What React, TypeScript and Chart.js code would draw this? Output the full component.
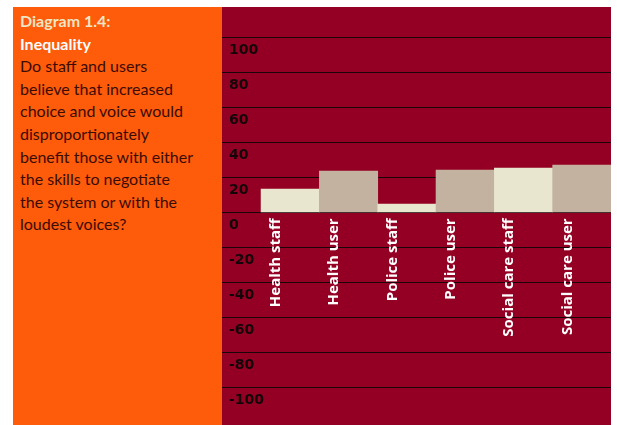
import React, { useEffect, useRef } from "react";
import { Chart, registerables } from "chart.js";

Chart.register(...registerables);

const categories = [
  "Health staff",
  "Health user",
  "Police staff",
  "Police user",
  "Social care staff",
  "Social care user",
];
const values = [13.3, 23.6, 4.7, 24.2, 25.3, 27.0];
const barColors = ["#E8E6CF", "#C4B2A0", "#E8E6CF", "#C4B2A0", "#E8E6CF", "#C4B2A0"];
const yTicks = [-100, -80, -60, -40, -20, 0, 20, 40, 60, 80, 100];

const titleLine1 = "Diagram 1.4:";
const titleLine2 = "Inequality";
const questionLines = [
  "Do staff and users",
  "believe that increased",
  "choice and voice would",
  "disproportionately",
  "benefit those with either",
  "the skills to negotiate",
  "the system or with the",
  "loudest voices?",
];

const RED = "#940023";
const ORANGE = "#FE5B0B";

const bgPlugin = {
  id: "bgFill",
  beforeDraw(chart: any) {
    const ctx = chart.ctx;
    ctx.save();
    ctx.fillStyle = RED;
    ctx.fillRect(0, 0, chart.width, chart.height);
    ctx.restore();
  },
};

const labelPlugin = {
  id: "insideLabels",
  afterDraw(chart: any) {
    const ctx = chart.ctx;
    const y = chart.scales.y;
    const area = chart.chartArea;
    ctx.save();
    // y tick labels, below each gridline
    ctx.fillStyle = "#14040a";
    ctx.font = 'bold 14px "DejaVu Sans"';
    ctx.textAlign = "left";
    ctx.textBaseline = "alphabetic";
    y.ticks.forEach((t: any) => {
      const py = y.getPixelForValue(t.value);
      ctx.fillText(String(t.value), area.left + 7, py + 17);
    });
    // category labels, rotated, hanging below zero line
    const meta = chart.getDatasetMeta(0);
    const zero = y.getPixelForValue(0);
    ctx.fillStyle = "#ffffff";
    ctx.font = 'bold 15px "Open Sans"';
    ctx.textAlign = "right";
    ctx.textBaseline = "alphabetic";
    meta.data.forEach((bar: any, i: number) => {
      const left = bar.x - bar.width / 2;
      ctx.save();
      ctx.translate(left + 19, zero + 6);
      ctx.rotate(-Math.PI / 2);
      ctx.fillText(categories[i], 0, 0);
      ctx.restore();
    });
    ctx.restore();
  },
};

function BarChart() {
  const ref = useRef<HTMLCanvasElement | null>(null);
  useEffect(() => {
    if (!ref.current) return;
    const chart = new Chart(ref.current, {
      type: "bar",
      data: {
        datasets: [
          {
            data: categories.map((c, i) => ({ x: i + 1, y: values[i] })),
            backgroundColor: barColors,
            borderWidth: 0,
            barPercentage: 1,
            categoryPercentage: 1,
          },
        ],
      },
      options: {
        animation: false,
        responsive: false,
        devicePixelRatio: 1,
        layout: { padding: 0 },
        plugins: { legend: { display: false }, tooltip: { enabled: false } },
        scales: {
          x: { type: "linear", min: -0.17, max: 6.5, display: false, offset: false },
          y: {
            min: -121.5,
            max: 117.3,
            z: 1,
            afterBuildTicks: (s: any) => {
              s.ticks = yTicks.map((v) => ({ value: v }));
            },
            ticks: { display: false },
            grid: { color: "#1a0509", lineWidth: 1, drawTicks: false },
            border: { display: false },
          },
        },
      } as any,
      plugins: [bgPlugin, labelPlugin],
    });
    return () => chart.destroy();
  }, []);
  return <canvas ref={ref} width={389} height={418} style={{ display: "block" }} />;
}

export default function App() {
  return (
    <div style={{ position: "fixed", left: 0, top: 0, width: 617, height: 425, background: "#fff", overflow: "hidden" }}>
      <div
        style={{
          position: "absolute",
          left: 13,
          top: 7,
          width: 209,
          height: 418,
          background: ORANGE,
        }}
      >
        <div
          style={{
            position: "absolute",
            left: 7,
            top: 3,
            fontFamily: "Lato, sans-serif",
            fontSize: 16,
            lineHeight: "22.6px",
            whiteSpace: "nowrap",
          }}
        >
          <div style={{ fontWeight: 700, color: "#F1E6C4" }}>{titleLine1}</div>
          <div style={{ fontWeight: 700, color: "#ffffff" }}>{titleLine2}</div>
          {questionLines.map((l) => (
            <div key={l} style={{ color: "#3a0c02" }}>{l}</div>
          ))}
        </div>
      </div>
      <div style={{ position: "absolute", left: 222, top: 7, width: 389, height: 418 }}>
        <BarChart />
      </div>
    </div>
  );
}
